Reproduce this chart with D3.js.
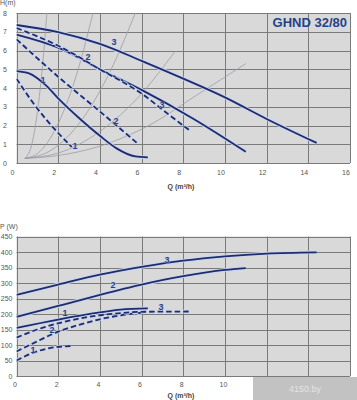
<!DOCTYPE html>
<html><head><meta charset="utf-8">
<script src="https://cdn.jsdelivr.net/npm/d3@7/dist/d3.min.js"></script>
<style>
html,body{margin:0;padding:0;background:#fff;}
svg{display:block;font-family:"Liberation Sans",Arial,sans-serif;}
</style></head>
<body>
<svg id="c" width="357" height="400"></svg>
<script>
// ---------- data ----------
const title = "GHND 32/80";
const qTicks = [0,2,4,6,8,10,12,14,16];
const qTickLabelsBottom = [0,2,4,6,8,10];   // 12–16 are hidden under the watermark box
const hTicks = [0,1,2,3,4,5,6,7,8];
const pTicks = [0,50,100,150,200,250,300,350,400,450];
const hAxisLabel = "H(m)";
const pAxisLabel = "P (W)";
const qAxisLabel = "Q (m³/h)";
const watermark = "4150.by";

// H(Q) curves – speeds 1,2,3 (solid and dashed modes)
const h3Solid  = [[0,7.36],[2,6.98],[4,6.35],[6,5.45],[8,4.5],[10,3.5],[12,2.35],[14.4,1.07]];
const h2Solid  = [[0,6.85],[2,6.15],[4,5.0],[6,3.9],[8.5,2.35],[11,0.6]];
const h1Solid  = [[0,4.9],[0.6,4.78],[1.4,4.15],[2,3.45],[3,2.4],[4,1.45],[4.8,0.78],[5.7,0.35],[6.3,0.3]];
const h3Dashed = [[0,7.2],[2,6.25],[4,5.0],[6,3.7],[7.4,2.5],[8.33,1.72]];
const h2Dashed = [[0,6.6],[2,4.6],[4,2.75],[5.8,1.05]];
const h1Dashed = [[0,4.5],[0.8,3.2],[2,1.6],[2.65,0.86]];

// thin system curves
const sysA = [[0.4,0.25],[0.7,0.85],[1.0,2.7],[1.25,5.2],[1.46,8]];
const sysB = [[0.4,0.25],[1,0.5],[2,2.1],[3,5.15],[3.67,8]];
const sysC = [[0.4,0.25],[1.5,0.58],[3,2.1],[4.5,4.9],[5.7,8]];
const sysD = [[0.4,0.25],[2,0.53],[4,1.68],[6,3.7],[7.6,5.95]];
const sysE = [[0.4,0.25],[2,0.4],[4,0.9],[6.4,2.03],[8.66,3.63],[11,5.3]];

// P(Q) curves
const p3Solid  = [[0,262],[2,295],[4,327],[6,352],[8,372],[10,386],[12,395],[14.4,399]];
const p2Solid  = [[0,191],[2,226],[4,262],[6,295],[8,322],[10,342],[11,348]];
const p1Solid  = [[0,155],[2,182],[4,205],[5,214],[6.3,218]];
const p3Dashed = [[0,124],[1,150],[2,170],[3,185],[4,196],[5,203],[6,207],[8.3,208]];
const p2Dashed = [[0,79],[1,112],[2,143],[3,165],[4,183],[5,196],[6,204]];
const p1Dashed = [[0,50],[0.8,75],[1.6,90],[2.65,97]];

// curve labels [text, Q, value]
const hLabels = [["3",4.68,6.45],["2",3.43,5.65],["1",1.27,4.43],["3",6.98,3.09],["2",4.77,2.24],["1",2.81,0.91]];
const pLabels = [["3",7.22,375],["2",4.63,295],["1",2.33,204],["3",6.93,223],["2",1.70,149],["1",0.79,84]];

// ---------- drawing ----------
const svg = d3.select("#c");
const NAVY = "#1e2b6c", HALO = "#c9d5ef", GRID = "#7a7a7a", BG = "#d9d9d9", TXT = "#555";

const x = d3.scaleLinear().domain([0,16]).range([16.5,350]);
const yH = d3.scaleLinear().domain([0,8]).range([163,13]);
const yP = d3.scaleLinear().domain([0,450]).range([376,236.5]);

function panel(y, ticks, id){
  const g = svg.append("g");
  const [y0,y1] = y.range();
  g.append("rect").attr("x",x(0)).attr("y",y1).attr("width",x(16)-x(0)).attr("height",y0-y1).attr("fill",BG);
  g.append("clipPath").attr("id",id).append("rect")
    .attr("x",x(0)).attr("y",y1).attr("width",x(16)-x(0)).attr("height",y0-y1);
  g.selectAll(".hg").data(ticks).join("line")
    .attr("x1",x(0)).attr("x2",x(16)).attr("y1",d=>Math.round(y(d))+0.5).attr("y2",d=>Math.round(y(d))+0.5)
    .attr("stroke",GRID).attr("stroke-width",1);
  g.selectAll(".vg").data(qTicks).join("line")
    .attr("y1",y0).attr("y2",y1).attr("x1",d=>Math.round(x(d))+0.5).attr("x2",d=>Math.round(x(d))+0.5)
    .attr("stroke",GRID).attr("stroke-width",1);
  return g;
}

const topG = panel(yH, hTicks, "clipH");
const botG = panel(yP, pTicks, "clipP");

const lineH = d3.line().x(d=>x(d[0])).y(d=>yH(d[1])).curve(d3.curveMonotoneX);
const lineP = d3.line().x(d=>x(d[0])).y(d=>yP(d[1])).curve(d3.curveMonotoneX);

// system curves
const gs = topG.append("g").attr("clip-path","url(#clipH)");
[sysA,sysB,sysC,sysD,sysE].forEach(s=>{
  gs.append("path").attr("d",lineH(s)).attr("fill","none").attr("stroke","#9c9ca6").attr("stroke-width",0.8);
});

function drawCurve(g, line, data, dashed){
  g.append("path").attr("d",line(data)).attr("fill","none").attr("stroke",HALO).attr("stroke-width",3.6)
    .attr("stroke-dasharray",dashed?"6,2.5":null).attr("stroke-linecap","butt");
  g.append("path").attr("d",line(data)).attr("fill","none").attr("stroke",NAVY).attr("stroke-width",1.8)
    .attr("stroke-dasharray",dashed?"5.5,3":null).attr("stroke-linecap","butt");
}
const gc = topG.append("g").attr("clip-path","url(#clipH)");
[[h1Solid,false],[h2Solid,false],[h3Solid,false],[h1Dashed,true],[h2Dashed,true],[h3Dashed,true]]
  .forEach(([d,dash])=>drawCurve(gc,lineH,d,dash));
const gp = botG.append("g").attr("clip-path","url(#clipP)");
[[p1Solid,false],[p2Solid,false],[p3Solid,false],[p1Dashed,true],[p2Dashed,true],[p3Dashed,true]]
  .forEach(([d,dash])=>drawCurve(gp,lineP,d,dash));

// curve labels
function labels(g, y, data){
  g.selectAll(".cl").data(data).join("text")
    .attr("x",d=>x(d[1])).attr("y",d=>y(d[2])).attr("text-anchor","middle").attr("dominant-baseline","central")
    .attr("font-size",9).attr("font-weight","bold").attr("fill","#2a3f86")
    .attr("stroke",HALO).attr("stroke-width",0.6).attr("paint-order","stroke")
    .text(d=>d[0]);
}
labels(topG, yH, hLabels);
labels(botG, yP, pLabels);

// tick labels
topG.selectAll(".yl").data(hTicks).join("text").attr("x",7).attr("y",d=>yH(d)).attr("text-anchor","end")
  .attr("dominant-baseline","central").attr("font-size",7).attr("fill",TXT).text(d=>d);
botG.selectAll(".yl").data(pTicks).join("text").attr("x",12.5).attr("y",d=>yP(d)).attr("text-anchor","end")
  .attr("dominant-baseline","central").attr("font-size",7).attr("fill",TXT).text(d=>d);
topG.selectAll(".xl").data(qTicks).join("text").attr("x",d=>x(d)-4).attr("y",172.5).attr("text-anchor","middle")
  .attr("dominant-baseline","central").attr("font-size",7).attr("fill",TXT).text(d=>d);
botG.selectAll(".xl").data(qTickLabelsBottom).join("text").attr("x",d=>x(d)-1.5).attr("y",384.5).attr("text-anchor","middle")
  .attr("dominant-baseline","central").attr("font-size",7).attr("fill",TXT).text(d=>d);

// axis titles
svg.append("text").attr("x",0).attr("y",5).attr("font-size",7).attr("fill",TXT).text(hAxisLabel);
svg.append("text").attr("x",0).attr("y",229).attr("font-size",7).attr("fill",TXT).text(pAxisLabel);
function qLabel(yy){
  svg.append("text").attr("x",181).attr("y",yy).attr("text-anchor","middle").attr("font-size",7)
    .attr("font-weight","bold").attr("fill","#444").text(qAxisLabel);
}
qLabel(189); qLabel(397.5);

// title
svg.append("text").attr("x",347).attr("y",27).attr("text-anchor","end").attr("font-size",13)
  .attr("font-weight","bold").attr("fill","#25428a").text(title);

// watermark box
svg.append("rect").attr("x",253).attr("y",377).attr("width",104).attr("height",23).attr("fill","#c2c2c2");
svg.append("text").attr("x",305).attr("y",389).attr("text-anchor","middle").attr("dominant-baseline","central")
  .attr("font-size",9).attr("fill","#e2e2e2").text(watermark);
</script>
</body></html>
